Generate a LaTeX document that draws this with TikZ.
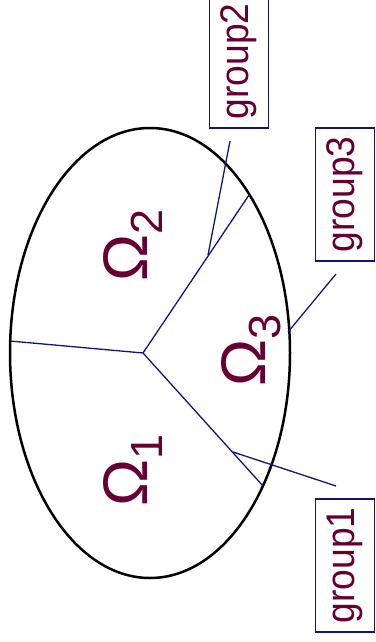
\documentclass[tikz,border=0pt]{standalone}
\usepackage{fontspec}
\setmainfont{Liberation Sans}
\definecolor{maroon}{RGB}{102,0,51}
\definecolor{navyline}{RGB}{20,20,120}
\newcommand{\grptext}[1]{\scalebox{0.93}[1]{#1}}
\begin{document}
\begin{tikzpicture}[x=1pt,y=-1pt,
  part/.style={draw=navyline,line width=1.3pt},
  grp/.style={draw=navyline,line width=1.3pt,rotate=90,minimum width=133pt,minimum height=59pt,inner sep=0pt,text=maroon,font=\fontsize{40}{40}\selectfont},
  omega/.style={rotate=90,anchor=base west,inner sep=0pt,text=maroon,font=\fontsize{63}{63}\selectfont}]
\useasboundingbox (0,0) rectangle (375,642);
\draw[line width=2.5pt] (150,353) ellipse [x radius=140, y radius=225];
% partition
\coordinate (J) at (143,353);
\coordinate (L) at (10,341);
\coordinate (U) at (249,195);
\coordinate (D) at (263,486);
\draw[part] (L) -- (J) -- (U);
\draw[part] (J) -- (D);
% labels
\node[omega] (o1) at (147,507) {Ω\raisebox{-0.24em}{\fontsize{45}{45}\selectfont 1}};
\node[omega] (o2) at (147,282) {Ω\raisebox{-0.24em}{\fontsize{45}{45}\selectfont 2}};
\node[omega] (o3) at (265,387) {Ω\raisebox{-0.24em}{\fontsize{45}{45}\selectfont 3}};
% group boxes
\node[grp] (g2) at (239,61.5) {\grptext{group2}};
\node[grp] (g3) at (345,194.5) {\grptext{group3}};
\node[grp] (g1) at (345,565.5) {\grptext{group1}};
% leaders
\coordinate (l2a) at (230,141);
\coordinate (l2b) at (208,255);
\coordinate (l3a) at (336,274);
\coordinate (l3b) at (288,332);
\coordinate (l1a) at (336,486);
\coordinate (l1b) at (233,452);
\draw[part] (l2a) -- (l2b);
\draw[part] (l3a) -- (l3b);
\draw[part] (l1a) -- (l1b);
\end{tikzpicture}
\end{document}
